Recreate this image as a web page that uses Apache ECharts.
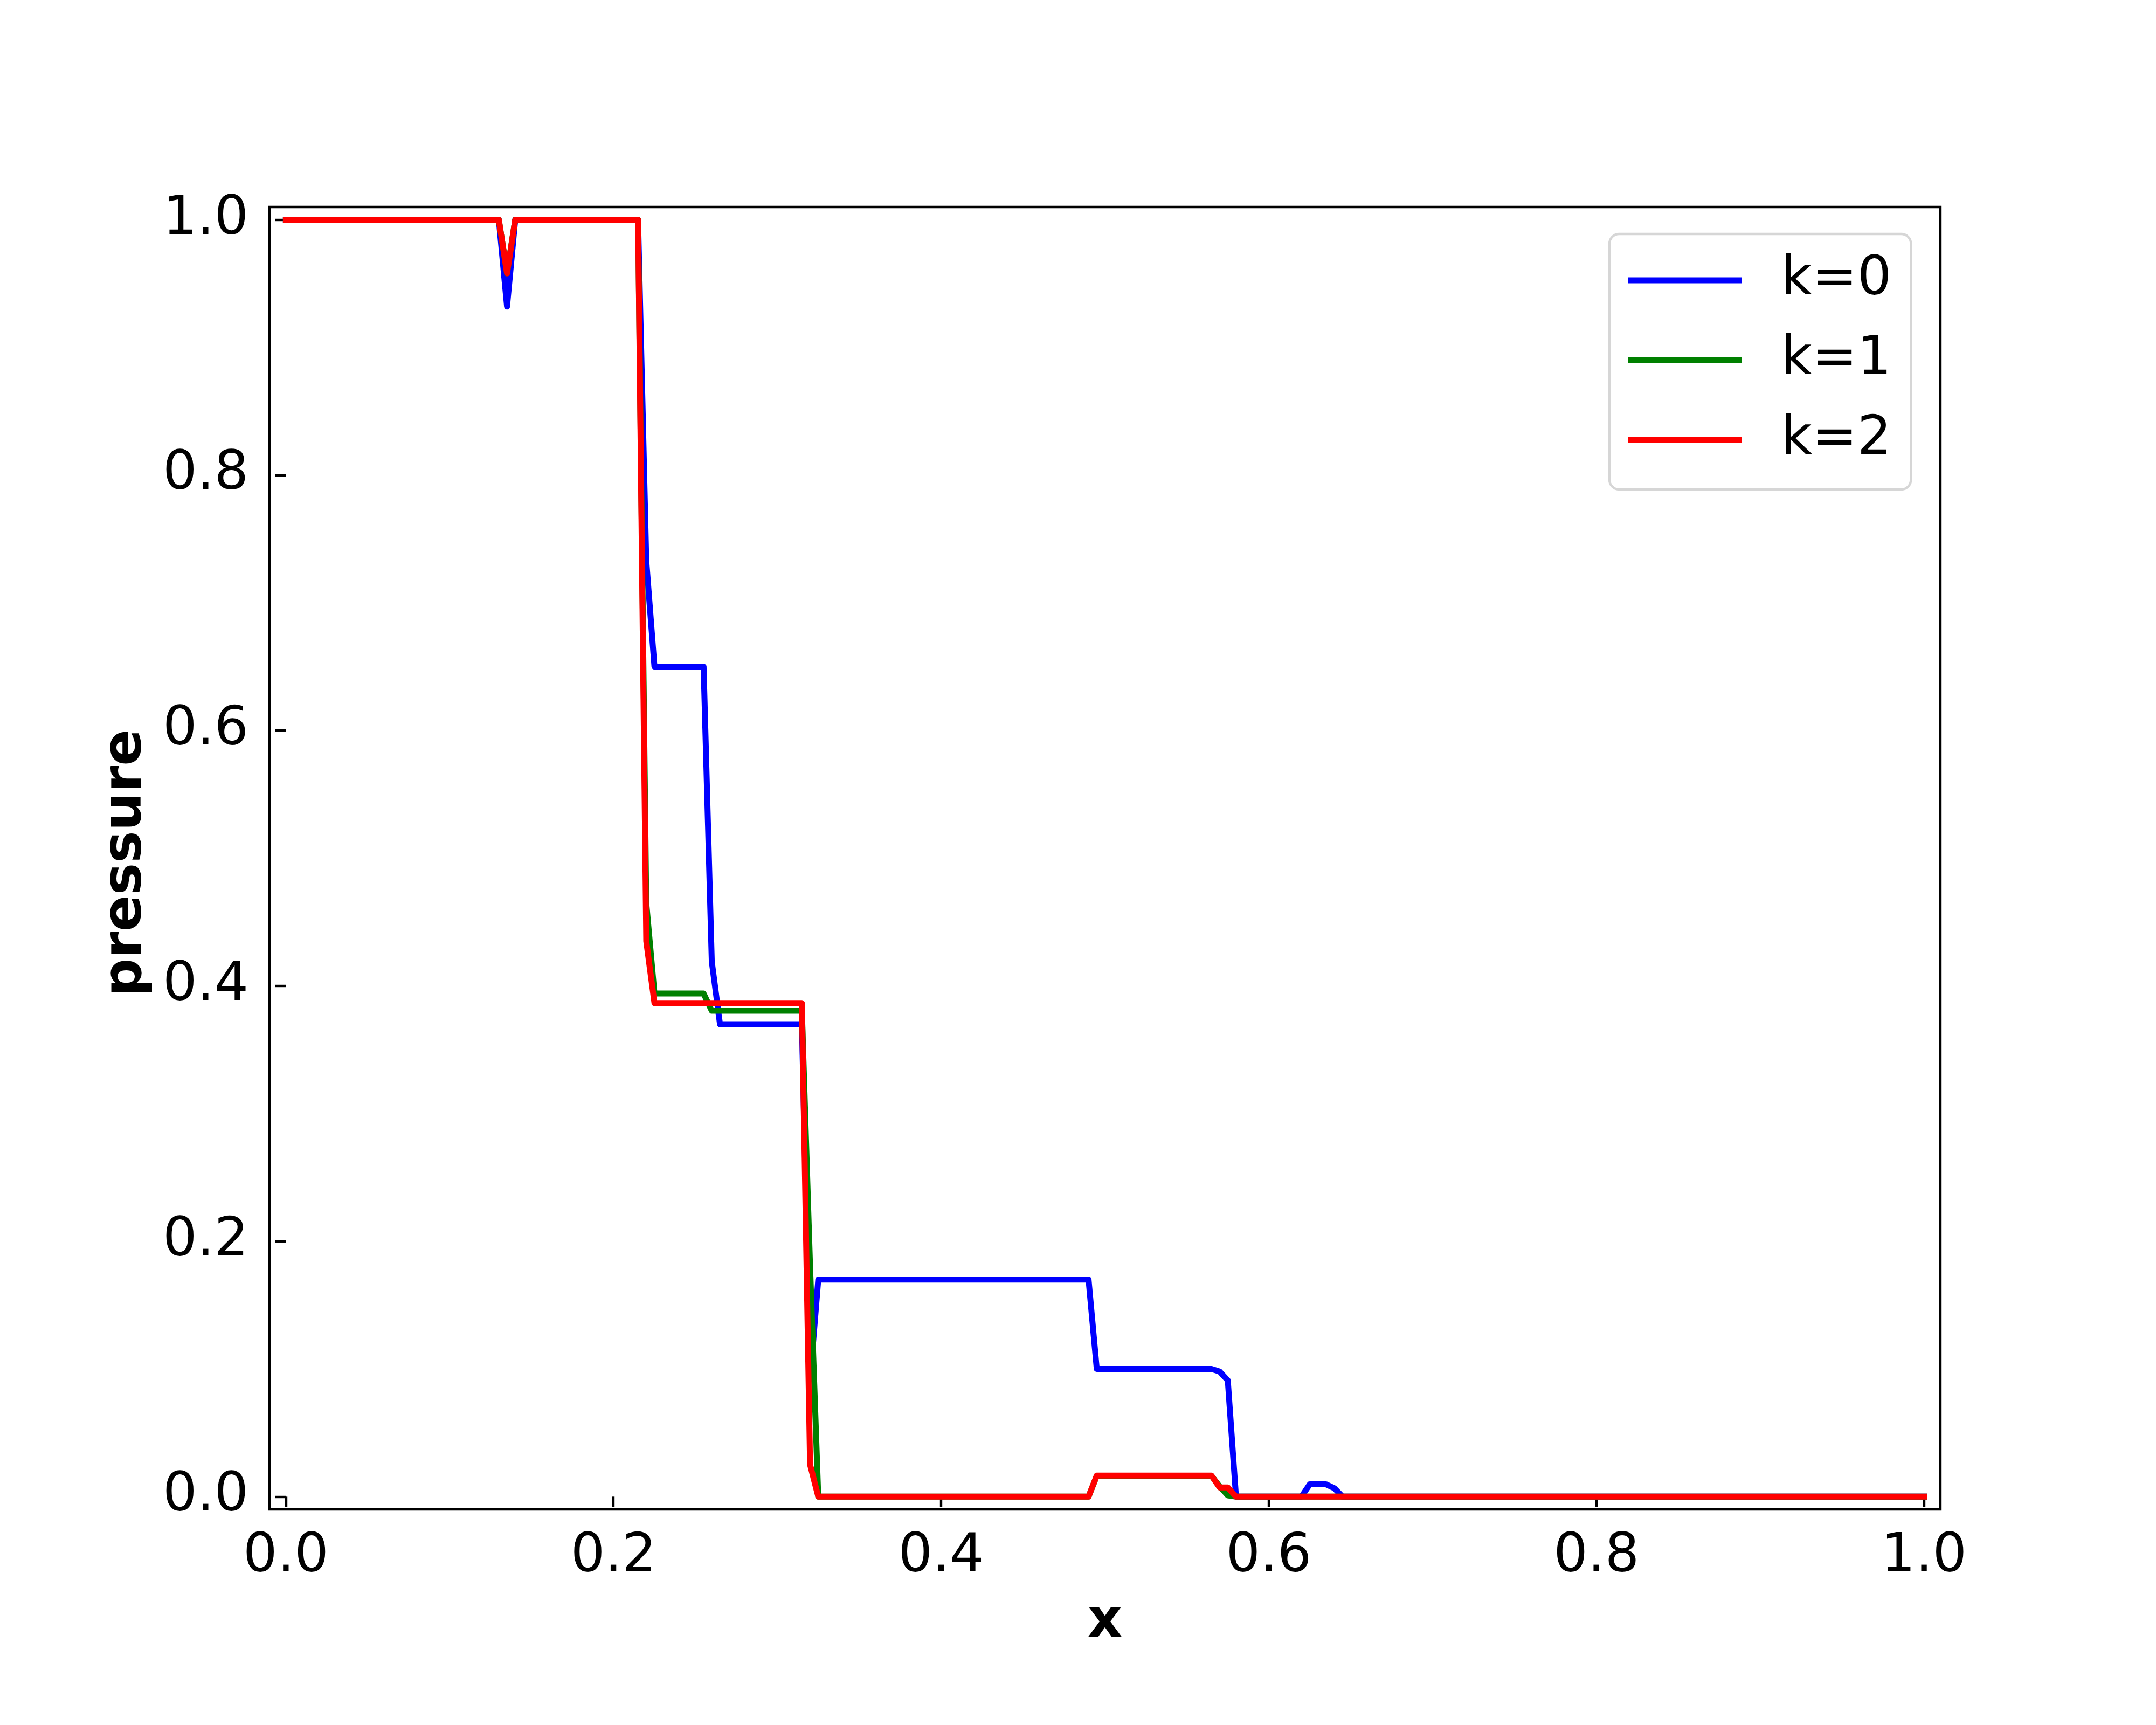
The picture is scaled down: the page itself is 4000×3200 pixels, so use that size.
<!DOCTYPE html>
<html>
<head>
<meta charset="utf-8">
<script src="https://cdn.jsdelivr.net/npm/echarts@6/dist/echarts.min.js"></script>
<style>
html,body{margin:0;padding:0;background:#ffffff;}
#c{width:4000px;height:3200px;}
</style>
</head>
<body>
<div id="c"></div>
<script>
// ---- data ----
const seriesNames = ['k=0', 'k=1', 'k=2'];
const seriesColors = ['#0000ff', '#008000', '#ff0000'];
const xTickValues = [0.0, 0.2, 0.4, 0.6, 0.8, 1.0];
const yTickValues = [0.0, 0.2, 0.4, 0.6, 0.8, 1.0];

// k=0
const k0X = [0, 0.13, 0.135, 0.14, 0.215, 0.22, 0.225, 0.255, 0.26, 0.265, 0.315, 0.32, 0.325, 0.49, 0.495, 0.565, 0.57, 0.575, 0.58, 0.62, 0.625, 0.635, 0.64, 0.645, 1.0];
const k0Y = [1, 1, 0.932, 1, 1, 0.733, 0.65, 0.65, 0.419, 0.37, 0.37, 0.092, 0.17, 0.17, 0.1, 0.1, 0.098, 0.091, 0, 0, 0.0096, 0.0096, 0.0066, 0, 0];
// k=1
const k1X = [0, 0.13, 0.135, 0.14, 0.215, 0.22, 0.225, 0.255, 0.26, 0.315, 0.32, 0.325, 0.49, 0.495, 0.565, 0.57, 0.575, 0.58, 1.0];
const k1Y = [1, 1, 0.958, 1, 1, 0.465, 0.394, 0.394, 0.3805, 0.3805, 0.18, 0, 0, 0.0163, 0.0163, 0.008, 0.001, 0, 0];
// k=2
const k2X = [0, 0.13, 0.135, 0.14, 0.215, 0.22, 0.225, 0.315, 0.32, 0.325, 0.49, 0.495, 0.565, 0.57, 0.575, 0.58, 1.0];
const k2Y = [1, 1, 0.958, 1, 1, 0.435, 0.3865, 0.3865, 0.025, 0, 0, 0.0165, 0.0165, 0.0072, 0.0072, 0, 0];

const allX = [k0X, k1X, k2X];
const allY = [k0Y, k1Y, k2Y];

// ---- chart ----
const FONT = 'DejaVu Sans';
const chart = echarts.init(document.getElementById('c'), null, {renderer: 'canvas', width: 4000, height: 3200});

const series = seriesNames.map(function (name, i) {
  return {
    name: name,
    type: 'line',
    data: allX[i].map(function (x, j) { return [x, allY[i][j]]; }),
    showSymbol: false,
    symbol: 'none',
    animation: false,
    lineStyle: {color: seriesColors[i], width: 11, cap: 'square', join: 'round'},
    itemStyle: {color: seriesColors[i]},
    z: 2 + i
  };
});

const option = {
  backgroundColor: '#ffffff',
  animation: false,
  grid: {
    left: 500, top: 384, width: 3100, height: 2416,
    show: true, borderColor: '#000000', borderWidth: 4.4, backgroundColor: '#ffffff',
    containLabel: false
  },
  legend: {
    orient: 'vertical',
    left: 2986, top: 434,
    data: seriesNames.map(function (n) { return {name: n, icon: 'rect'}; }),
    itemWidth: 211, itemHeight: 11, itemGap: 48,
    padding: [36, 36, 42, 34],
    backgroundColor: '#ffffff',
    borderColor: '#d6d6d6', borderWidth: 4.4, borderRadius: 18,
    textStyle: {fontFamily: FONT, fontSize: 100, color: '#000000', lineHeight: 100, padding: [0, 0, 0, 68]},
    selectedMode: false
  },
  xAxis: {
    type: 'value', min: -0.01, max: 1.01,
    name: 'x', nameLocation: 'middle', nameGap: 160,
    nameTextStyle: {fontFamily: FONT, fontSize: 100, fontWeight: 'bold', color: '#000000'},
    axisLine: {show: false},
    splitLine: {show: false},
    axisTick: {show: true, inside: false, length: 19.4, customValues: xTickValues, lineStyle: {color: '#000000', width: 4.4}},
    axisLabel: {show: true, margin: 39, customValues: xTickValues, fontFamily: FONT, fontSize: 100, color: '#000000',
      formatter: function (v) { return v.toFixed(1); }}
  },
  yAxis: {
    type: 'value', min: -0.01, max: 1.01,
    name: 'pressure', nameLocation: 'middle', nameGap: 215, nameRotate: 90,
    nameTextStyle: {fontFamily: FONT, fontSize: 100, fontWeight: 'bold', color: '#000000', padding: [0, 18, 0, 0]},
    axisLine: {show: false},
    splitLine: {show: false},
    axisTick: {show: true, inside: false, length: 19.4, customValues: yTickValues, lineStyle: {color: '#000000', width: 4.4}},
    axisLabel: {show: true, margin: 39, customValues: yTickValues, fontFamily: FONT, fontSize: 100, color: '#000000',
      padding: [16, 0, 0, 0],
      formatter: function (v) { return v.toFixed(1); }}
  },
  series: series
};
chart.setOption(option);
</script>
</body>
</html>
